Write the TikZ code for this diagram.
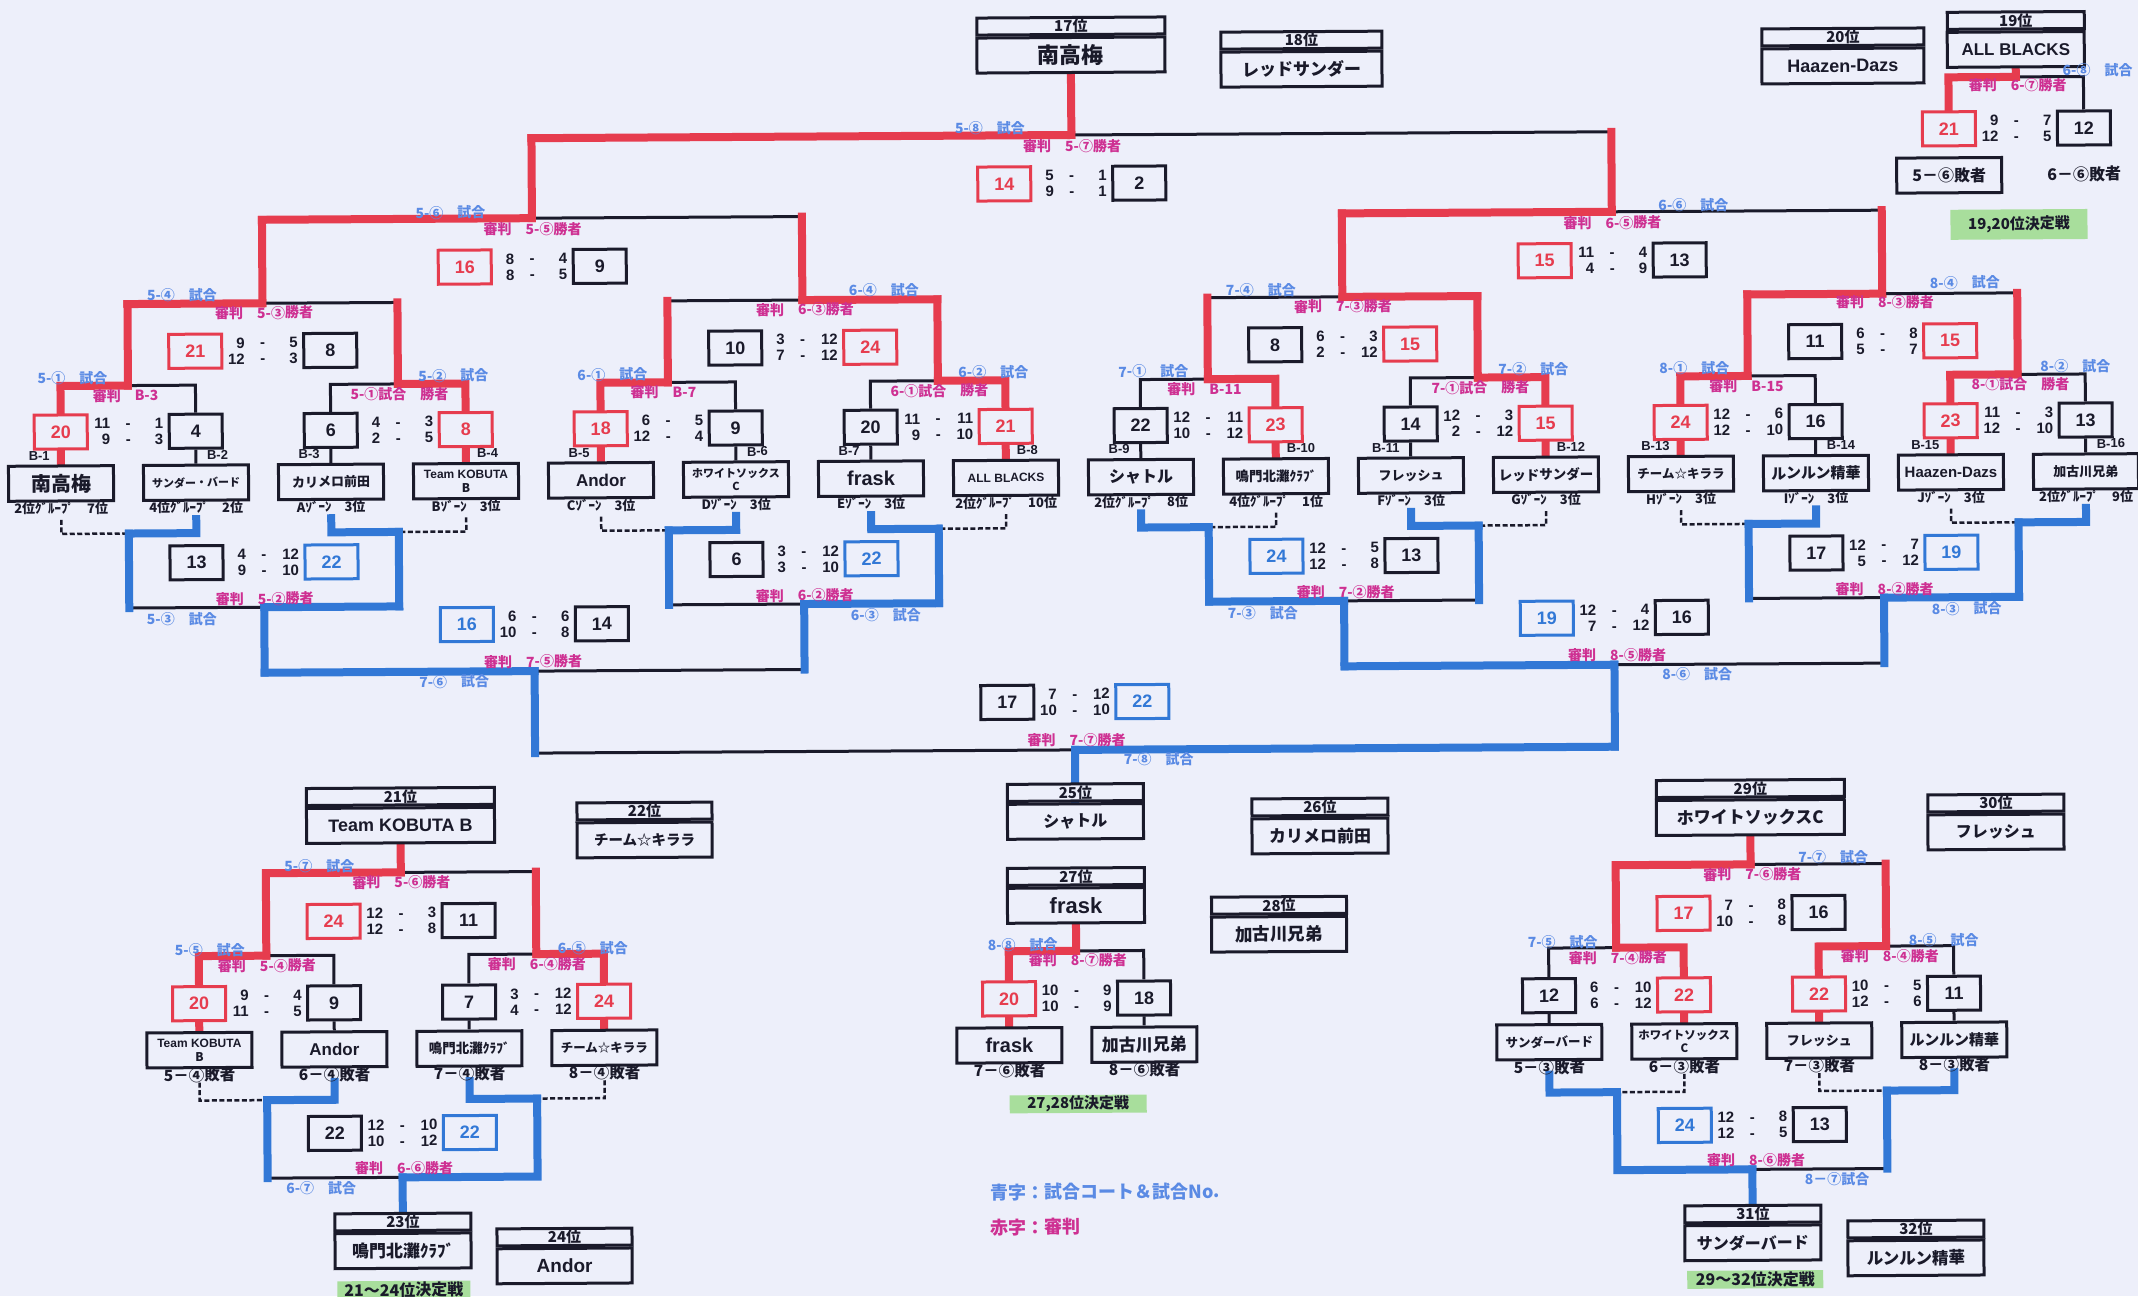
\documentclass[tikz,border=0pt]{standalone}
\usepackage{fontspec}
\setmainfont{Noto Sans CJK JP}
\newfontfamily\latin{Liberation Sans}
\usetikzlibrary{positioning}

\definecolor{paper}{RGB}{237,239,250}
\definecolor{ink}{RGB}{26,26,42}
\definecolor{winred}{RGB}{230,60,78}
\definecolor{consblue}{RGB}{50,120,214}
\definecolor{courtblue}{RGB}{90,138,228}
\definecolor{judgepink}{RGB}{206,48,146}
\definecolor{finalgreen}{RGB}{168,222,156}

\pgfdeclarelayer{back}
\pgfdeclarelayer{wires}
\pgfsetlayers{back,wires,main}

% two sets of a match, printed between its two boxes
\newcommand\gamescore[4]{%
	\makebox[17pt][r]{#1}\hspace{15pt}\makebox[6pt]{-}\hspace{15pt}\makebox[17pt][r]{#2}\\
	\makebox[17pt][r]{#3}\hspace{15pt}\makebox[6pt]{-}\hspace{15pt}\makebox[17pt][r]{#4}}

\tikzset{
	fs/.style = {font = \bfseries\fontsize{#1}{#1}\selectfont},
	team/.style = {draw = ink, fill = paper, text = ink, line width = 3pt, minimum width = 105pt, minimum height = 35pt, inner sep = 0pt, align = center},
	scorebox/.style = {draw = ink, fill = paper, text = ink, line width = 3pt, minimum width = 53pt, minimum height = 34pt, inner sep = 0pt, font = \latin\bfseries\fontsize{18}{18}\selectfont},
	redbox/.style = {scorebox, draw = winred, text = winred},
	bluebox/.style = {scorebox, draw = consblue, text = consblue},
	pts/.style = {inner sep = 0pt, align = center, text = ink, font = \latin\bfseries\fontsize{15}{16}\selectfont},
	rankhead/.style = {draw = ink, fill = paper, text = ink, line width = 3pt, minimum height = 17pt, inner sep = 0pt, font = \bfseries\fontsize{15}{15}\selectfont},
	rankname/.style = {draw = ink, fill = paper, text = ink, line width = 3pt, minimum height = 35pt, inner sep = 0pt},
	court/.style = {inner sep = 0pt, text = courtblue, fs = 14},
	judge/.style = {inner sep = 0pt, text = judgepink, fs = 14},
	sub/.style = {inner sep = 0pt, text = ink, fs = 13},
	loss/.style = {inner sep = 0pt, text = ink, fs = 15.5},
	blab/.style = {inner sep = 0pt, text = ink, font = \latin\bfseries\fontsize{13}{13}\selectfont},
	final/.style = {fill = finalgreen, text = ink, minimum width = 137pt, minimum height = 18pt, inner sep = 0pt, fs = 15},
	win/.style = {draw = winred, line width = 8pt, line cap = rect},
	cons/.style = {draw = consblue, line width = 8pt, line cap = rect},
	lose/.style = {draw = ink, line width = 3pt},
	tieline/.style = {draw = ink, line width = 2.5pt, dash pattern = on 5pt off 2.5pt}
}

\begin{document}
\begin{tikzpicture}[x = 1pt, y = -1pt]

	% Sheet

	\begin{pgfonlayer}{back}
		\fill [paper] (0, 0) rectangle (2138, 1296);
	\end{pgfonlayer}
	\useasboundingbox (0, 0) rectangle (2138, 1296);

	\begin{scope}[rotate around = {0.34:(1069, 648)}, transform shape]

	% Match points (middle of each bar) and joins of the lower bracket

	\foreach \m/\x/\y in {51/129.5/380, 52/399.5/380, 61/669.5/380, 62/939.5/380, 71/1209.5/380, 72/1479.5/380, 81/1749.5/380, 82/2019.5/380,
		54/264.5/298.5, 64/804.5/298.5, 74/1344.5/298.5, 84/1884.5/298.5, 56/534.5/215, 66/1614.5/215, 58/1074.5/135, 68/2019.5/82.5,
		53/264.5/602.5, 63/804.5/602.5, 73/1344.5/602.5, 83/1884.5/602.5, 76/534.5/668, 86/1614.5/668, 78/1074.5/750,
		57/399.5/868.5, 55/264.5/951, 65/534.5/951, 67/399.5/1173.5, 88/1074.5/951,
		77/1749.5/868.5, 75/1614.5/951, 85/1884.5/951, 87/1749.5/1173.5}
		\coordinate (k\m) at (\x, \y);

	\foreach \m/\x/\y in {51/129.5/528, 52/399.5/528, 61/669.5/528, 62/939.5/528, 71/1209.5/528, 72/1479.5/528, 81/1749.5/528, 82/2019.5/528,
		55/264.5/1095.5, 65/534.5/1095.5, 75/1614.5/1095.5, 85/1884.5/1095.5}
		\coordinate (j\m) at (\x, \y);

	% Ranking boxes

	\foreach \rk/\x/\tp/\w/\f/\nm in {17/1074.5/17.5/188/22/南高梅, 18/1305/33/161/17/レッドサンダー,
		19/2019.5/17.5/137/17/{\latin ALL BLACKS}, 20/1846.5/33/162/18/{\latin Haazen-Dazs},
		21/399.5/784/188/18/{\latin Team KOBUTA B}, 22/643.5/800/135/14.5/チーム☆キララ,
		23/399.5/1209.5/136/17/鳴門北灘ｸﾗﾌﾞ, 24/561/1225.5/135/19/{\latin Andor},
		25/1074.5/784/136/16/シャトル, 26/1319/800/136/17/カリメロ前田,
		27/1074.5/868/137/22/{\latin frask}, 28/1277.5/898/135/17.5/加古川兄弟,
		29/1749.5/784/188/17/ホワイトソックスC, 30/1995/800/136/16/フレッシュ,
		31/1749.5/1209.5/136/16/サンダーバード, 32/1912.5/1225.5/136/16.5/ルンルン精華}
	{
		\node [rankhead, minimum width = \w] (h\rk) at (\x, \tp + 8.5) {\rk 位};
		\node [rankname, minimum width = \w, fs = \f, below = 0pt of h\rk] (n\rk) {\nm};
	}

	% First round teams

	\foreach \n/\x/\f/\nm/\g in {1/62/20/南高梅/2位ｸﾞﾙｰﾌﾟ　7位, 2/197/11/サンダー・バード/4位ｸﾞﾙｰﾌﾟ　2位,
		3/332/13/カリメロ前田/Aｿﾞｰﾝ　3位, 4/467/12/{\latin Team KOBUTA\\[2pt]B}/Bｿﾞｰﾝ　3位,
		5/602/17/{\latin Andor}/Cｿﾞｰﾝ　3位, 6/737/11/{ホワイトソックス\\[2pt]C}/Dｿﾞｰﾝ　3位,
		7/872/20/{\latin frask}/Eｿﾞｰﾝ　3位, 8/1007/12/{\latin ALL BLACKS}/2位ｸﾞﾙｰﾌﾟ　10位,
		9/1142/16/シャトル/2位ｸﾞﾙｰﾌﾟ　8位, 10/1277/13.5/鳴門北灘ｸﾗﾌﾞ/4位ｸﾞﾙｰﾌﾟ　1位,
		11/1412/13/フレッシュ/Fｿﾞｰﾝ　3位, 12/1547/13.5/レッドサンダー/Gｿﾞｰﾝ　3位,
		13/1682/12.5/チーム☆キララ/Hｿﾞｰﾝ　3位, 14/1817/15/ルンルン精華/Iｿﾞｰﾝ　3位,
		15/1952/15/{\latin Haazen-Dazs}/Jｿﾞｰﾝ　3位, 16/2087/13/加古川兄弟/2位ｸﾞﾙｰﾌﾟ　9位}
	{
		\node [team, fs = \f] (u\n) at (\x, 477.5) {\nm};
		\node [sub] (g\n) at (\x, 502.5) {\g};
	}

	\foreach \n in {1, 3, ..., 15}
		\node [blab, anchor = south east] (b\n) at ([xshift = -11pt, yshift = 4pt]u\n.north) {B-\n};
	\foreach \n in {2, 4, ..., 16}
		\node [blab, anchor = south west] (b\n) at ([xshift = 11pt, yshift = 4pt]u\n.north) {B-\n};

	% Placing matches (bottom blocks)

	\foreach \n/\x/\f/\nm/\g in {1/197/12/{\latin Team KOBUTA\\[2pt]B}/5－④敗者, 2/332/17/{\latin Andor}/6－④敗者,
		3/467/13.5/鳴門北灘ｸﾗﾌﾞ/7－④敗者, 4/602/12.5/チーム☆キララ/8－④敗者}
	{
		\node [team, fs = \f] (bl\n) at (\x, 1045) {\nm};
		\node [loss] (gl\n) at (\x, 1070) {\g};
	}
	\foreach \n/\x/\f/\nm/\g in {1/1007/20/{\latin frask}/7－⑥敗者, 2/1142/17/加古川兄弟/8－⑥敗者}
	{
		\node [team, fs = \f] (m\n) at (\x, 1045) {\nm};
		\node [loss] (gm\n) at (\x, 1070) {\g};
	}
	\foreach \n/\x/\f/\nm/\g in {1/1547/12.5/サンダーバード/5－③敗者, 2/1682/11.5/{ホワイトソックス\\[2pt]C}/6－③敗者,
		3/1817/13/フレッシュ/7－③敗者, 4/1952/15/ルンルン精華/8－③敗者}
	{
		\node [team, fs = \f] (br\n) at (\x, 1045) {\nm};
		\node [loss] (gr\n) at (\x, 1070) {\g};
	}

	\node [team, fs = 16] (lx1) at (1952, 180.5) {5－⑥敗者};
	\node [loss, fs = 16] (lx2) at (2087, 180) {6－⑥敗者};

	% Score boxes and sets

	\foreach \m/\x/\y/\vl/\bxl/\vr/\bxr/\ga/\gb/\gc/\gd in {
		51/62/426/20/redbox/4/scorebox/11/1/9/3, 52/332/426/6/scorebox/8/redbox/4/3/2/5,
		61/602/426/18/redbox/9/scorebox/6/5/12/4, 62/872/426/20/scorebox/21/redbox/11/11/9/10,
		71/1142/426/22/scorebox/23/redbox/12/11/10/12, 72/1412/426/14/scorebox/15/redbox/12/3/2/12,
		81/1682/426/24/redbox/16/scorebox/12/6/12/10, 82/1952/426/23/redbox/13/scorebox/11/3/12/10,
		54/197/346/21/redbox/8/scorebox/9/5/12/3, 64/737/346/10/scorebox/24/redbox/3/12/7/12,
		74/1277/346/8/scorebox/15/redbox/6/3/2/12, 84/1817/346/11/scorebox/15/redbox/6/8/5/7,
		56/467/263.5/16/redbox/9/scorebox/8/4/8/5, 66/1547/263.5/15/redbox/13/scorebox/11/4/4/9,
		58/1007/183.5/14/redbox/2/scorebox/5/1/9/1, 68/1952/134/21/redbox/12/scorebox/9/7/12/5,
		53/197/557.5/13/scorebox/22/bluebox/4/12/9/10, 63/737/557.5/6/scorebox/22/bluebox/3/12/3/10,
		73/1277/557.5/24/bluebox/13/scorebox/12/5/12/8, 83/1817/557.5/17/scorebox/19/bluebox/12/7/5/12,
		76/467/621/16/bluebox/14/scorebox/6/6/10/8, 86/1547/621/19/bluebox/16/scorebox/12/4/7/12,
		78/1007/702/17/scorebox/22/bluebox/7/12/10/10,
		57/332/917/24/redbox/11/scorebox/12/3/12/8, 55/197/998.5/20/redbox/9/scorebox/9/4/11/5,
		65/467/998.5/7/scorebox/24/redbox/3/12/4/12, 67/332/1129/22/scorebox/22/bluebox/12/10/10/12,
		88/1007/998.5/20/redbox/18/scorebox/10/9/10/9,
		77/1682/917/17/redbox/16/scorebox/7/8/10/8, 75/1547/998.5/12/scorebox/22/redbox/6/10/6/12,
		85/1817/998.5/22/redbox/11/scorebox/10/5/12/6, 87/1682/1129/24/bluebox/13/scorebox/12/8/12/5}
	{
		\node [\bxl] (sl\m) at (\x, \y) {\vl};
		\node [\bxr] (sr\m) at (\x + 135, \y) {\vr};
		\node [pts] (sp\m) at (\x + 67.5, \y) {\gamescore{\ga}{\gb}{\gc}{\gd}};
	}

	% Court and referee labels

	\foreach \x/\y/\tx [count = \q] in {74/372/5-①　試合, 455/372/5-②　試合, 614/372/6-①　試合, 995/372/6-②　試合,
		1155/372/7-①　試合, 1535/372/7-②　試合, 1696/372/8-①　試合, 2077/372/8-②　試合,
		184/290/5-④　試合, 886/289/6-④　試合, 1263/291/7-④　試合, 1967/288/8-④　試合,
		453/209/5-⑥　試合, 1696/209/6-⑥　試合, 993/128/5-⑧　試合, 2101/76/6-⑧　試合,
		182/614/5-③　試合, 886/614/6-③　試合, 1263/614/7-③　試合, 1967/614/8-③　試合,
		454/678/7-⑥　試合, 1697/678/8-⑥　試合, 1158/759.5/7-⑧　試合,
		318/861.5/5-⑦　試合, 208/945/5-⑤　試合, 591/945/6-⑤　試合, 318/1184/6-⑦　試合,
		1021/944.5/8-⑧　試合,
		1832/861.5/7-⑦　試合, 1561/945/7-⑤　試合, 1942/945/8-⑤　試合, 1834/1184/8－⑦試合}
		\node [court] (c\q) at (\x, \y) {\tx};

	\foreach \x/\y/\tx [count = \q] in {127/390/審判　B-3, 401/390/5-①試合　勝者, 665/390/審判　B-7, 941/390/6-①試合　勝者,
		1206/390/審判　B-11, 1482/390/7-①試合　勝者, 1748/390/審判　B-15, 2022/390/8-①試合　勝者,
		266/308/審判　5-③勝者, 807/308/審判　6-③勝者, 1345/308/審判　7-③勝者, 1887/307/審判　8-③勝者,
		535/226/審判　5-⑤勝者, 1615/226/審判　6-⑤勝者, 1075/146/審判　5-⑦勝者, 2021/90.5/審判　6-⑦勝者,
		265/594/審判　5-②勝者, 805/594/審判　6-②勝者, 1346/594/審判　7-②勝者, 1885/594/審判　8-②勝者,
		533/658.5/審判　7-⑤勝者, 1617/658.5/審判　8-⑤勝者, 1076/740/審判　7-⑦勝者,
		400/878.5/審判　5-⑥勝者, 265/961/審判　5-④勝者, 535/961/審判　6-④勝者, 401/1164/審判　6-⑥勝者,
		1076/960/審判　8-⑦勝者,
		1751/878.5/審判　7-⑥勝者, 1616/961/審判　7-④勝者, 1888/961/審判　8-④勝者, 1753/1164/審判　8-⑥勝者}
		\node [judge] (r\q) at (\x, \y) {\tx};

	% Green tags and legend

	\node [final, minimum height = 30pt] (f19) at (2021.5, 230) {19,20位決定戦};
	\node [final] (f27) at (1075.5, 1104) {27,28位決定戦};
	\node [final, minimum width = 133pt, fs = 16] (f21) at (400, 1286) {21～24位決定戦};
	\node [final, minimum width = 136pt, fs = 16] (f29) at (1751.5, 1283.5) {29～32位決定戦};

	\node [court, fs = 18, anchor = west] (key1) at (987, 1192) {青字：試合コート＆試合No.};
	\node [judge, fs = 18, anchor = west] (key2) at (987, 1227) {赤字：審判};

	\begin{pgfonlayer}{wires}

	% Upper bracket: first round

	\foreach \m/\lt/\rt/\sa/\sb in {51/1/2/win/lose, 52/3/4/lose/win, 61/5/6/win/lose, 62/7/8/lose/win,
		71/9/10/lose/win, 72/11/12/lose/win, 81/13/14/win/lose, 82/15/16/win/lose}
	{
		\draw [\sa] (u\lt.north) -- (sl\m.south) (sl\m.north) |- (k\m);
		\draw [\sb] (u\rt.north) -- (sr\m.south) (sr\m.north) |- (k\m);
	}

	% Upper bracket: later rounds

	\foreach \ch/\pa/\s in {51/54/win, 52/54/lose, 61/64/lose, 62/64/win, 71/74/lose, 72/74/win, 81/84/win, 82/84/lose,
		54/56/win, 64/56/lose, 74/66/win, 84/66/lose, 56/58/win, 66/58/lose}
	{
		\draw [\s] (k\ch |- k\pa) -- (k\pa);
		\draw [win] (k\ch) -- (k\ch |- k\pa);
	}
	\draw [win] (k58) -- (n17.south);

	% 19, 20

	\draw [lose] (k68) -| (sr68.north);
	\draw [win] (n19.south) -- (k68) -| (sl68.north);

	% Lower bracket

	\foreach \m/\wn/\ls in {51/1/2, 52/4/3, 61/5/6, 62/8/7, 71/10/9, 72/12/11, 81/13/14, 82/15/16}
	{
		\draw [tieline] ([yshift = -5pt]g\wn.south) |- (j\m);
		\draw [cons] ([yshift = -5pt]g\ls.south) |- (j\m);
	}

	\foreach \ch/\pa/\s in {51/53/lose, 52/53/cons, 61/63/lose, 62/63/cons, 71/73/cons, 72/73/lose, 81/83/lose, 82/83/cons}
	{
		\draw [\s] (j\ch |- k\pa) -- (k\pa);
		\draw [cons] (j\ch) -- (j\ch |- k\pa);
	}

	\foreach \ch/\pa/\s in {53/76/cons, 63/76/lose, 73/86/cons, 83/86/lose, 76/78/lose, 86/78/cons}
	{
		\draw [\s] (k\ch |- k\pa) -- (k\pa);
		\draw [cons] (k\ch) -- (k\ch |- k\pa);
	}
	\draw [cons] (k78) -- (n25.north);

	% 21 - 24

	\draw [win] (bl1.north) -- (sl55.south) (sl55.north) |- (k55);
	\draw [lose] (bl2.north) -- (sr55.south) (sr55.north) |- (k55);
	\draw [lose] (bl3.north) -- (sl65.south) (sl65.north) |- (k65);
	\draw [win] (bl4.north) -- (sr65.south) (sr65.north) |- (k65);
	\draw [lose] (k65 |- k57) -- (k57);
	\draw [win] (k55) |- (k57);
	\draw [win] (k65) -- (k65 |- k57);
	\draw [win] (k57) -- (n21.south);
	\draw [tieline] (gl1.south) |- (j55);
	\draw [cons] (gl2.south) |- (j55);
	\draw [cons] (gl3.south) |- (j65);
	\draw [tieline] (gl4.south) |- (j65);
	\draw [lose] (j55 |- k67) -- (k67);
	\draw [cons] (j55) -- (j55 |- k67);
	\draw [cons] (j65) |- (k67);
	\draw [cons] (k67) -- (n23.north);

	% 27, 28

	\draw [lose] (k88) -| (sr88.north);
	\draw [lose] (sr88.south) -- (m2.north);
	\draw [win] (n27.south) -- (k88) -| (sl88.north);
	\draw [win] (sl88.south) -- (m1.north);

	% 29 - 32

	\draw [lose] (br1.north) -- (sl75.south) (sl75.north) |- (k75);
	\draw [win] (br2.north) -- (sr75.south) (sr75.north) |- (k75);
	\draw [win] (br3.north) -- (sl85.south) (sl85.north) |- (k85);
	\draw [lose] (br4.north) -- (sr85.south) (sr85.north) |- (k85);
	\draw [lose] (k85 |- k77) -- (k77);
	\draw [win] (k75) |- (k77);
	\draw [win] (k85) -- (k85 |- k77);
	\draw [win] (k77) -- (n29.south);
	\draw [tieline] (gr2.south) |- (j75);
	\draw [cons] (gr1.south) |- (j75);
	\draw [tieline] (gr3.south) |- (j85);
	\draw [cons] (gr4.south) |- (j85);
	\draw [lose] (j85 |- k87) -- (k87);
	\draw [cons] (j75) |- (k87);
	\draw [cons] (j85) -- (j85 |- k87);
	\draw [cons] (k87) -- (n31.north);

	\end{pgfonlayer}

	\end{scope}

\end{tikzpicture}
\end{document}
